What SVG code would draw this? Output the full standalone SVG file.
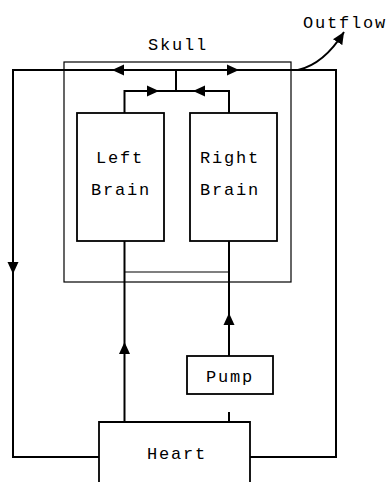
<svg xmlns="http://www.w3.org/2000/svg" width="390" height="482" viewBox="0 0 390 482">
<style>
.t{font-family:"Liberation Mono","Courier New",monospace;font-size:17px;letter-spacing:1.8px;fill:#000}
.box{fill:none;stroke:#000;stroke-width:1.8}
.c{fill:none;stroke:#000;stroke-width:2}
.thin{fill:none;stroke:#000;stroke-width:1.2}
</style>
<defs>
<marker id="ah" markerUnits="userSpaceOnUse" markerWidth="13" markerHeight="12" refX="12" refY="5.5" orient="auto" viewBox="0 0 13 11">
<path d="M0,0 L12,5.5 L0,11 Z" fill="#000"/>
</marker>
</defs>
<rect width="390" height="482" fill="#fff"/>
<g id="skull">
<rect class="thin" x="64" y="62" width="227" height="220"/>
<text class="t" x="148" y="50">Skull</text>
</g>
<g id="left-brain">
<rect class="box" x="77" y="113" width="87" height="128"/>
<text class="t" x="96" y="163">Left</text>
<text class="t" x="91" y="195">Brain</text>
</g>
<g id="right-brain">
<rect class="box" x="190" y="113" width="87" height="128"/>
<text class="t" x="200" y="163">Right</text>
<text class="t" x="200" y="195">Brain</text>
</g>
<g id="pump">
<rect class="box" x="187" y="356" width="86" height="38"/>
<text class="t" x="206" y="382">Pump</text>
</g>
<g id="heart">
<path class="box" d="M99,486 V422 H250 V486"/>
<text class="t" x="147" y="459">Heart</text>
</g>
<g id="outflow">
<text class="t" x="303" y="28">Outflow</text>
</g>
<g id="connectors">
<path class="c" d="M176,70 H112" marker-end="url(#ah)"/>
<path class="c" d="M112,70 H13 V274" marker-end="url(#ah)"/>
<path class="c" d="M13,274 V457 H99"/>
<path class="c" d="M176,70 H239" marker-end="url(#ah)"/>
<path class="c" d="M239,70 H336 V457 H250"/>
<path class="c" d="M176,91 V70"/>
<path class="c" d="M124.5,113 V91 H159" marker-end="url(#ah)"/>
<path class="c" d="M159,91 H176"/>
<path class="c" d="M229,113 V91 H193" marker-end="url(#ah)"/>
<path class="c" d="M193,91 H176"/>
<path class="c" d="M124.5,422 V342" marker-end="url(#ah)"/>
<path class="c" d="M124.5,342 V241"/>
<path class="c" d="M229,356 V313" marker-end="url(#ah)"/>
<path class="c" d="M229,313 V241"/>
<path class="thin" d="M124.5,272 H229"/>
<path class="c" d="M229,412 V422"/>
<path class="c" d="M298,70 Q324,64 344,32" marker-end="url(#ah)"/>
</g>
</svg>
